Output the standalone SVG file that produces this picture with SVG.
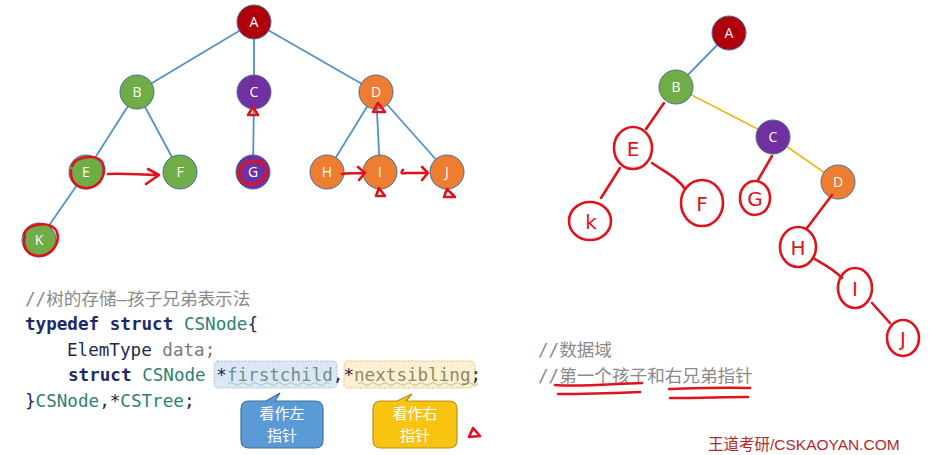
<svg xmlns="http://www.w3.org/2000/svg" width="930" height="455" viewBox="0 0 930 455">
<defs>
<style>
.edge{stroke:#5391c6;stroke-width:1.8;fill:none}
.edgeY{stroke:#e8bb22;stroke-width:1.8;fill:none}
.red{stroke:#e0121b;stroke-width:2.6;fill:none;stroke-linecap:round;stroke-linejoin:round}
.n circle{stroke:#4a6f95;stroke-width:1}
.n text{font-family:"Open Sans","Noto Sans",sans-serif;font-size:14px;fill:#fff;text-anchor:middle}
.cA{fill:#b0000c}.cG{fill:#70ad47}.cP{fill:#7030a0}.cO{fill:#ed7d31}
.hw{font-family:"DejaVu Sans",sans-serif;font-size:20px;fill:#e0121b;text-anchor:middle}
.code{font-family:"DejaVu Sans Mono","Noto Sans CJK SC",monospace;font-size:17.6px}
.cm{fill:#8a8a8a}
.kw{fill:#1c2a6b;font-weight:bold}
.ty{fill:#2a8272}
.pl{fill:#1c2a50}
.gr{fill:#7a7a7a}
.call{font-family:"Noto Sans CJK SC",sans-serif;font-size:15px;fill:#fff;text-anchor:middle}
</style>
</defs>
<rect width="930" height="455" fill="#fff"/>

<g id="connectors">
<line class="edge" x1="254" y1="22" x2="137" y2="92"/>
<line class="edge" x1="254" y1="22" x2="254" y2="92"/>
<line class="edge" x1="254" y1="22" x2="376" y2="92"/>
<line class="edge" x1="137" y1="92" x2="86" y2="172"/>
<line class="edge" x1="137" y1="92" x2="180" y2="172"/>
<line class="edge" x1="254" y1="92" x2="253" y2="172"/>
<line class="edge" x1="376" y1="92" x2="327" y2="172"/>
<line class="edge" x1="376" y1="92" x2="380" y2="172"/>
<line class="edge" x1="376" y1="92" x2="447" y2="172"/>
<line class="edge" x1="86" y1="172" x2="39" y2="240"/>
<line class="edge" x1="729" y1="33" x2="676" y2="87"/>
<line class="edgeY" x1="676" y1="87" x2="773" y2="137"/>
<line class="edgeY" x1="773" y1="137" x2="838" y2="182"/>
</g>

<g id="node-A" class="n"><circle class="cA" cx="254" cy="22" r="17"/><text x="254" y="27">A</text></g>
<g id="node-B" class="n"><circle class="cG" cx="137" cy="92" r="17"/><text x="137" y="97">B</text></g>
<g id="node-C" class="n"><circle class="cP" cx="254" cy="92" r="17"/><text x="254" y="97">C</text></g>
<g id="node-D" class="n"><circle class="cO" cx="376" cy="92" r="17"/><text x="376" y="97">D</text></g>
<g id="node-E" class="n"><circle class="cG" cx="86" cy="172" r="17"/><text x="86" y="177">E</text></g>
<g id="node-F" class="n"><circle class="cG" cx="180" cy="172" r="17"/><text x="180" y="177">F</text></g>
<g id="node-G" class="n"><circle class="cP" cx="253" cy="172" r="17"/><text x="253" y="177">G</text></g>
<g id="node-H" class="n"><circle class="cO" cx="327" cy="172" r="17"/><text x="327" y="177">H</text></g>
<g id="node-I" class="n"><circle class="cO" cx="380" cy="172" r="17"/><text x="380" y="177">I</text></g>
<g id="node-J" class="n"><circle class="cO" cx="447" cy="172" r="17"/><text x="447" y="177">J</text></g>
<g id="node-K" class="n"><circle class="cG" cx="39" cy="240" r="17"/><text x="39" y="245">K</text></g>

<g id="node-A2" class="n"><circle class="cA" cx="729" cy="33" r="17"/><text x="729" y="38">A</text></g>
<g id="node-B2" class="n"><circle class="cG" cx="676" cy="87" r="17"/><text x="676" y="92">B</text></g>
<g id="node-C2" class="n"><circle class="cP" cx="773" cy="137" r="17"/><text x="773" y="142">C</text></g>
<g id="node-D2" class="n"><circle class="cO" cx="838" cy="182" r="17"/><text x="838" y="187">D</text></g>

<g id="annotations-left">
<path class="red" d="M72,166 C76,156 96,154 102,162 C107,172 102,186 88,188 C76,189 70,180 71,170"/>
<path class="red" d="M108,174 C125,173 140,175 159,175 M148,169 L159,175 L146,184"/>
<path class="red" d="M239,171 C241,160 262,158 266,167 C269,178 258,186 247,184 C240,182 238,176 240,170"/>
<path class="red" d="M24,235 C26,224 48,220 56,230 C62,242 52,256 38,256 C26,255 22,245 25,236"/>
<path class="red" d="M248,115 L253,107 L258,115 Z"/>
<path class="red" d="M373,112 L378,103 L385,112 Z"/>
<path class="red" d="M376,196 L379,188 L385,196 Z"/>
<path class="red" d="M444,197 L447,189 L455,197 Z"/>
<path class="red" d="M342,174 C350,173 356,173 365,173 M358,167 L365,173 L359,180"/>
<path class="red" d="M403,170 C400,173 402,174 406,173 C413,173 420,173 428,173 M422,167 L428,173 L422,180"/>
<path class="red" d="M469,437 L473,428 L480,436 Z" stroke-width="3"/>
</g>

<g id="annotations-right">
<path class="red" d="M664,103 L646,129" stroke-width="3.2"/>
<g id="node-E2"><ellipse class="red" cx="633" cy="148" rx="19" ry="21"/><text class="hw" x="633" y="156">E</text></g>
<path class="red" d="M620,168 L601,198"/>
<g id="node-K2"><ellipse class="red" cx="590" cy="221" rx="21" ry="19"/><text class="hw" x="591" y="229">k</text></g>
<path class="red" d="M652,163 C665,172 678,178 685,189"/>
<g id="node-F2"><ellipse class="red" cx="702" cy="203" rx="21" ry="23"/><text class="hw" x="702" y="211">F</text></g>
<path class="red" d="M772,156 L758,180"/>
<g id="node-G2"><ellipse class="red" cx="755" cy="198" rx="15" ry="17"/><text class="hw" x="755" y="206">G</text></g>
<path class="red" d="M832,195 L807,228"/>
<g id="node-H2"><ellipse class="red" cx="798" cy="247" rx="18" ry="20"/><text class="hw" x="798" y="255">H</text></g>
<path class="red" d="M813,258 C825,265 835,270 842,278"/>
<g id="node-I2"><ellipse class="red" cx="855" cy="288" rx="17" ry="20"/><text class="hw" x="855" y="296">I</text></g>
<path class="red" d="M872,303 L890,323"/>
<g id="node-J2"><ellipse class="red" cx="903" cy="338" rx="16" ry="18"/><text class="hw" x="903" y="346">J</text></g>
</g>

<g id="code">
<rect x="214" y="361" width="123" height="27" rx="4" fill="#dbe7f4" stroke="#9bb7d4" stroke-width="1" stroke-dasharray="1.5 1.5"/>
<rect x="344" y="361" width="131" height="27" rx="4" fill="#fcefd2" stroke="#e2b56a" stroke-width="1" stroke-dasharray="1.5 1.5"/>
<path d="M228,384 q3,-3 6,0 t6,0 t6,0 t6,0 t6,0 t6,0 t6,0 t6,0 t6,0 t6,0 t6,0 t6,0 t6,0 t6,0 t6,0 t6,0 t6,0" fill="none" stroke="#8bc48b" stroke-width="0.8"/>
<path d="M358,384 q3,-3 6,0 t6,0 t6,0 t6,0 t6,0 t6,0 t6,0 t6,0 t6,0 t6,0 t6,0 t6,0 t6,0 t6,0 t6,0 t6,0 t6,0 t6,0 t6,0 t6,0" fill="none" stroke="#8bc48b" stroke-width="0.8"/>
<text class="code cm" x="25" y="305">//树的存储—孩子兄弟表示法</text>
<text class="code" x="25" y="330" xml:space="preserve"><tspan class="kw">typedef struct </tspan><tspan class="ty">CSNode</tspan><tspan class="pl">{</tspan></text>
<text class="code" x="67" y="356" xml:space="preserve"><tspan class="pl">ElemType </tspan><tspan class="gr">data;</tspan></text>
<text class="code" x="68" y="381" xml:space="preserve"><tspan class="kw">struct </tspan><tspan class="ty">CSNode </tspan><tspan class="pl">*</tspan><tspan fill="#6e8f8c">firstchild</tspan><tspan class="pl">,*</tspan><tspan fill="#8c8a62">nextsibling</tspan><tspan class="pl">;</tspan></text>
<text class="code" x="25" y="407" xml:space="preserve"><tspan class="pl">}</tspan><tspan class="ty">CSNode</tspan><tspan class="pl">,*</tspan><tspan class="ty">CSTree</tspan><tspan class="pl">;</tspan></text>
</g>

<g id="callout-left">
<path d="M249,401 L266,401 L280,393 L275,401 L315,401 Q323,401 323,409 L323,440 Q323,448 315,448 L249,448 Q241,448 241,440 L241,409 Q241,401 249,401 Z" fill="#5b9bd5" stroke="#41719c" stroke-width="1.2"/>
<text class="call" x="282" y="419">看作左</text>
<text class="call" x="282" y="441">指针</text>
</g>
<g id="callout-right">
<path d="M381,401 L397,401 L412,394 L406,401 L449,401 Q457,401 457,409 L457,440 Q457,448 449,448 L381,448 Q373,448 373,440 L373,409 Q373,401 381,401 Z" fill="#f8c410" stroke="#b8901a" stroke-width="1.2"/>
<text class="call" x="415" y="419">看作右</text>
<text class="call" x="415" y="441">指针</text>
</g>

<g id="comments-right">
<text class="code cm" x="538" y="356" font-size="18">//数据域</text>
<text class="code cm" x="538" y="382" font-size="18">//第一个孩子和右兄弟指针</text>
<path class="red" d="M555,385 C580,387 610,384 642,383 M558,394 C590,394 615,393 640,392"/>
<path class="red" d="M669,389 C700,388 725,387 750,388 M670,398 C700,398 725,397 748,397"/>
</g>

<text x="708" y="450" font-family="'Liberation Sans','Noto Sans CJK SC',sans-serif" font-size="15.5" fill="#b3282a">王道考研/CSKAOYAN.COM</text>
</svg>
